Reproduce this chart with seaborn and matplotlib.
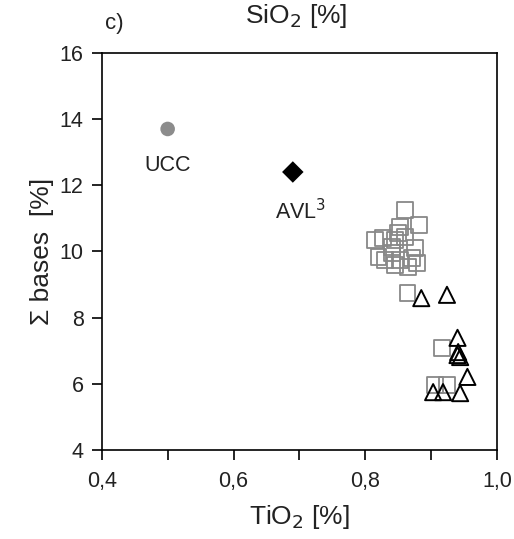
import matplotlib
matplotlib.use("Agg")
import matplotlib.pyplot as plt
import matplotlib.ticker as mticker
import seaborn as sns
import pandas as pd

# --- data ---
sq_x = [0.860, 0.882, 0.853, 0.850, 0.860, 0.815, 0.827, 0.841, 0.876, 0.820,
        0.841, 0.853, 0.871, 0.879, 0.865, 0.845, 0.830, 0.845,
        0.864, 0.917, 0.906, 0.924]
sq_y = [11.26, 10.80, 10.74, 10.56, 10.44, 10.35, 10.41, 10.14, 10.11, 9.83,
        9.96, 9.74, 9.80, 9.65, 9.53, 9.59, 9.74, 10.35,
        8.75, 7.08, 5.96, 5.96]
tri_x = [0.885, 0.924, 0.940, 0.941, 0.944, 0.940, 0.903, 0.918, 0.944, 0.955]
tri_y = [8.59, 8.69, 7.39, 6.96, 6.81, 6.87, 5.75, 5.75, 5.72, 6.21]
ucc_x, ucc_y = [0.50], [13.7]
avl_x, avl_y = [0.69], [12.4]
x_ticks = [0.4, 0.6, 0.8, 1.0]
x_ticklabels = ["0,4", "0,6", "0,8", "1,0"]
y_ticks = [4, 6, 8, 10, 12, 14, 16]

sns.set_style("ticks")
plt.rcParams["font.family"] = ["Liberation Sans", "DejaVu Sans"]
txt_color = "#222222"

fig = plt.figure(figsize=(5.14, 5.39), dpi=100)
ax = fig.add_axes([0.198, 0.165, 0.769, 0.737])

df_sq = pd.DataFrame({"x": sq_x, "y": sq_y})
df_tri = pd.DataFrame({"x": tri_x, "y": tri_y})
sns.scatterplot(data=df_sq, x="x", y="y", marker="s", s=130, facecolor="none",
                edgecolor="#888888", linewidth=1.3, ax=ax, zorder=3)
sns.scatterplot(data=df_tri, x="x", y="y", marker="^", s=135, facecolor="none",
                edgecolor="black", linewidth=1.4, ax=ax, zorder=4)
sns.scatterplot(x=ucc_x, y=ucc_y, marker="o", s=110, color="#8c8c8c",
                edgecolor="none", ax=ax, zorder=4)
sns.scatterplot(x=avl_x, y=avl_y, marker="D", s=120, color="black",
                edgecolor="none", ax=ax, zorder=4)

ax.text(ucc_x[0], ucc_y[0] - 1.1, "UCC", ha="center", va="center",
        fontsize=15.5, color=txt_color)
ax.text(avl_x[0] + 0.012, avl_y[0] - 1.2, "AVL$^3$", ha="center", va="center",
        fontsize=15.5, color=txt_color)

ax.set_xlim(0.4, 1.0)
ax.set_ylim(4, 16)
ax.set_xticks(x_ticks)
ax.set_xticklabels(x_ticklabels)
ax.xaxis.set_minor_locator(mticker.MultipleLocator(0.1))
ax.set_yticks(y_ticks)
ax.tick_params(axis="both", which="both", direction="out", length=7, width=1.2,
               labelsize=15.5, color="black", labelcolor=txt_color)
ax.tick_params(axis="x", which="major", pad=8)
ax.tick_params(axis="y", which="major", pad=6)
for sp in ax.spines.values():
    sp.set_visible(True)
    sp.set_linewidth(1.2)
    sp.set_color("black")

ax.set_xlabel("TiO$_2$ [%]", fontsize=19, labelpad=8, color=txt_color)
ax.set_ylabel("Σ bases  [%]", fontsize=19, labelpad=4, color=txt_color)
ax.grid(False)

fig.text(0.577, 0.996, "SiO$_2$ [%]", ha="center", va="top", fontsize=19,
         color=txt_color)
fig.text(0.223, 0.957, "c)", ha="center", va="center", fontsize=16,
         color=txt_color)

fig.savefig("out.png", dpi=100)
